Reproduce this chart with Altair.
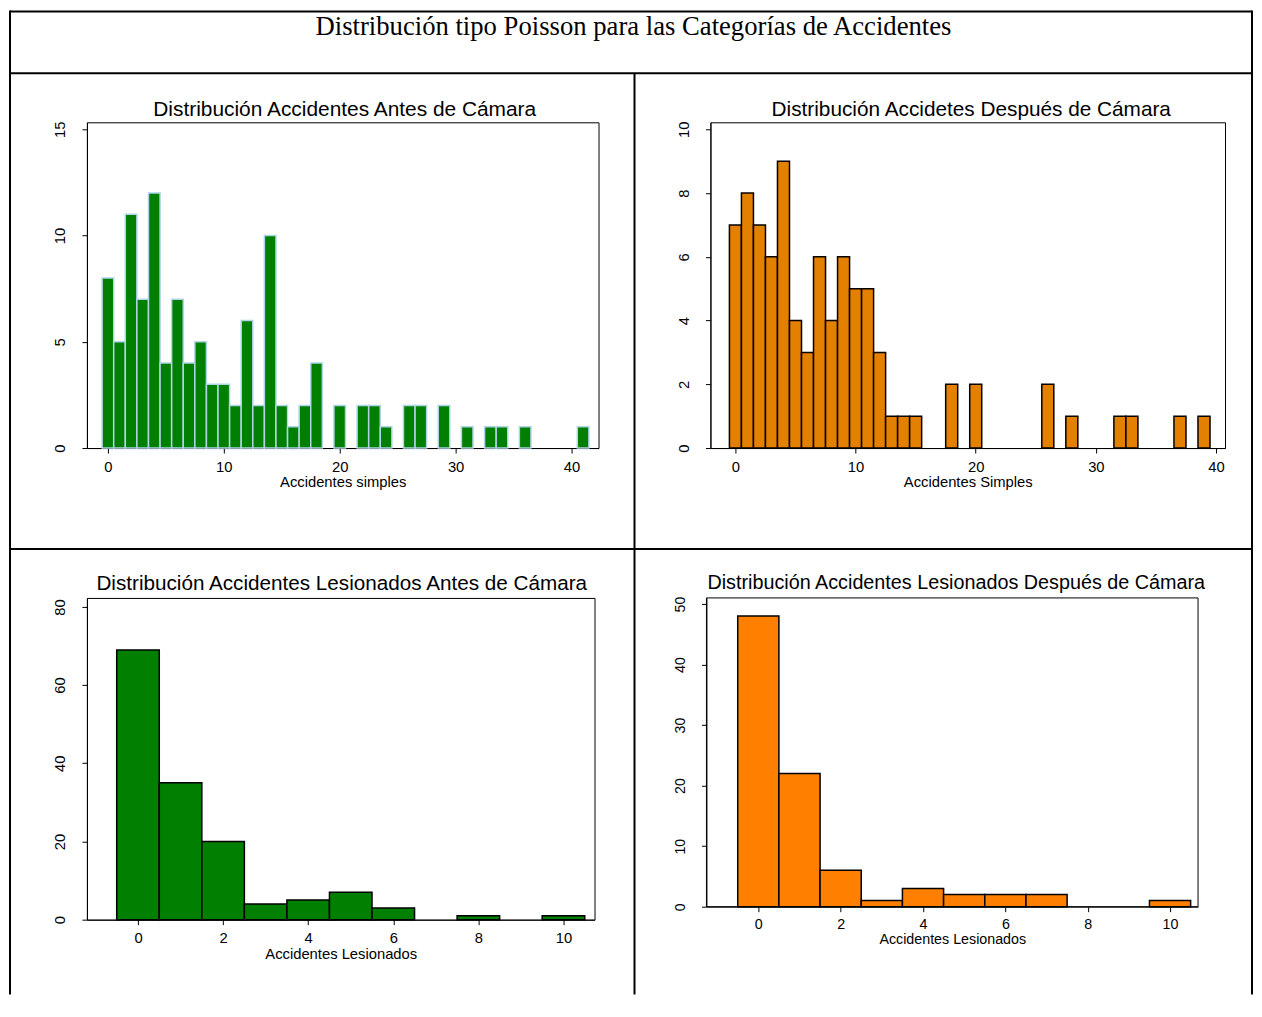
import altair as alt
import pandas as pd

# ---- data (frequency per integer value) ----
antes_simples = [8, 5, 11, 7, 12, 4, 7, 4, 5, 3, 3, 2, 6, 2, 10, 2, 1, 2, 4, 0, 2,
                 0, 2, 2, 1, 0, 2, 2, 0, 2, 0, 1, 0, 1, 1, 0, 1, 0, 0, 0, 0, 1]
despues_simples = [7, 8, 7, 6, 9, 4, 3, 6, 4, 6, 5, 5, 3, 1, 1, 1, 0, 0, 2, 0, 2,
                   0, 0, 0, 0, 0, 2, 0, 1, 0, 0, 0, 1, 1, 0, 0, 0, 1, 0, 1]
antes_lesionados = [69, 35, 20, 4, 5, 7, 3, 0, 1, 0, 1]
despues_lesionados = [48, 22, 6, 1, 3, 2, 2, 2, 0, 0, 1]

header_title = "Distribución tipo Poisson para las Categorías de Accidentes"
panel_titles = [
    "Distribución Accidentes Antes de Cámara",
    "Distribución Accidetes Después de Cámara",
    "Distribución Accidentes Lesionados Antes de Cámara",
    "Distribución Accidentes Lesionados Después de Cámara",
]
x_titles = ["Accidentes simples", "Accidentes Simples",
            "Accidentes Lesionados", "Accidentes Lesionados"]
x_ticks_simples = [0, 10, 20, 30, 40]
x_ticks_les = [0, 2, 4, 6, 8, 10]
y_ticks = [[0, 5, 10, 15], [0, 2, 4, 6, 8, 10],
           [0, 20, 40, 60, 80], [0, 10, 20, 30, 40, 50]]

SANS = "Liberation Sans"
SERIF = "Liberation Serif"


def panel(counts, title, xtitle, xdom, ydom, xticks, yticks, fill, stroke,
          w, h, tx, ty, tsize, asize, shift=0):
    df = pd.DataFrame({"valor": list(range(len(counts))), "frecuencia": counts})
    if shift:
        xscale = alt.Scale(domain=xdom, nice=False, zero=False,
                           range=[-shift, w - shift])
    else:
        xscale = alt.Scale(domain=xdom, nice=False, zero=False)
    bars = (
        alt.Chart(df)
        .transform_filter("datum.frecuencia > 0")
        .transform_calculate(lo="datum.valor - 0.5", hi="datum.valor + 0.5")
        .mark_bar(fill=fill, stroke=stroke, strokeWidth=1.5)
        .encode(
            x=alt.X("lo:Q", scale=xscale,
                    axis=alt.Axis(values=xticks, title=xtitle, format="d",
                                  labelPadding=6, titlePadding=1,
                                  labelFontSize=asize, titleFontSize=asize,
                                  labelFlush=False)),
            x2="hi:Q",
            y=alt.Y("frecuencia:Q",
                    scale=alt.Scale(domain=ydom, nice=False),
                    axis=alt.Axis(values=yticks, title=None, format="d",
                                  labelAngle=270, labelAlign="center",
                                  labelBaseline="alphabetic",
                                  labelFontSize=asize, offset=shift,
                                  labelPadding=17, labelFlush=False)),
            y2=alt.datum(0),
        )
    )
    ttl = (
        alt.Chart(alt.Data(values=[{}]))
        .mark_text(text=title, font=SANS, fontSize=tsize, color="black",
                   align="center", baseline="alphabetic")
        .encode(x=alt.value(tx), y=alt.value(ty))
    )
    return bars, ttl


b1, t1 = panel(antes_simples, panel_titles[0], x_titles[0], [-1.81, 42.33],
               [0, 15.33], x_ticks_simples, y_ticks[0], "#007F00", "#B0D4E8",
               512, 326, 258, -6, 20.9, 14.8)
b2, t2 = panel(despues_simples, panel_titles[1], x_titles[1], [-2.08, 40.75],
               [0, 10.22], x_ticks_simples, y_ticks[1], "#E38000", "black",
               515, 326, 261, -6, 20.8, 14.8)
b3, t3 = panel(antes_lesionados, panel_titles[2], x_titles[2], [-1.2, 10.73],
               [0, 82.3], x_ticks_les, y_ticks[2], "#007F00", "black",
               508, 322, 255, -8, 20.7, 14.8)
b4, t4 = panel(despues_lesionados, panel_titles[3], x_titles[3], [-1.26, 10.68],
               [0, 51.0], x_ticks_les, y_ticks[3], "#FF8000", "black",
               492, 309, 246, -9, 19.8, 14.3, shift=4)

one = alt.Data(values=[{}])

# frame of the fourth plot region (it sits 4 px left of its grid cell)
frame4 = (
    alt.Chart(one)
    .mark_rect(fillOpacity=0, stroke="black", strokeWidth=1)
    .encode(x=alt.value(-4), x2=alt.value(488), y=alt.value(0), y2=alt.value(309))
)


# ---- table frame (decoration, pixel positions relative to first panel) ----
def line(x, x2, y, y2):
    return alt.Chart(one).mark_rule(color="black", strokeWidth=2).encode(
        x=alt.value(x), x2=alt.value(x2), y=alt.value(y), y2=alt.value(y2))


LEFT = -77
RIGHT = 1166
TOP = -111
BOT = 873
frame = [
    line(LEFT, RIGHT, TOP, TOP),        # top
    line(LEFT, RIGHT, -49, -49),        # under header
    line(LEFT, LEFT, TOP - 1, BOT),     # left
    line(RIGHT, RIGHT, TOP - 1, BOT),   # right
    line(548, 548, -49, BOT),           # middle vertical
    line(LEFT, RIGHT, 427, 427),        # middle horizontal
]
header = (
    alt.Chart(one)
    .mark_text(text=header_title, font=SERIF, fontSize=26.7, color="black",
               align="center", baseline="alphabetic")
    .encode(x=alt.value(547), y=alt.value(-87))
)

p1 = alt.layer(b1, t1, header, *frame).properties(width=512, height=326)
p2 = alt.layer(b2, t2).properties(width=515, height=326)
p3 = alt.layer(b3, t3).properties(width=508, height=322)
p4 = alt.layer(b4, t4, frame4).properties(
    width=492, height=309, view=alt.ViewBackground(stroke="transparent"))

chart = (
    alt.concat(p1, p2, p3, p4, columns=2)
    .properties(spacing={"row": 150, "column": 112}, bounds="flush",
                padding={"left": 0, "top": 0, "right": 0, "bottom": 0},
                background="white")
    .configure_axis(labelFont=SANS, labelColor="black",
                    titleFont=SANS, titleFontWeight="normal",
                    titleColor="black", domainColor="black", domainWidth=1,
                    tickColor="black", tickSize=5, tickWidth=1, grid=False)
    .configure_view(stroke="black", strokeWidth=1)
)

chart.save("out.html", embed_options={"renderer": "svg", "actions": False})
